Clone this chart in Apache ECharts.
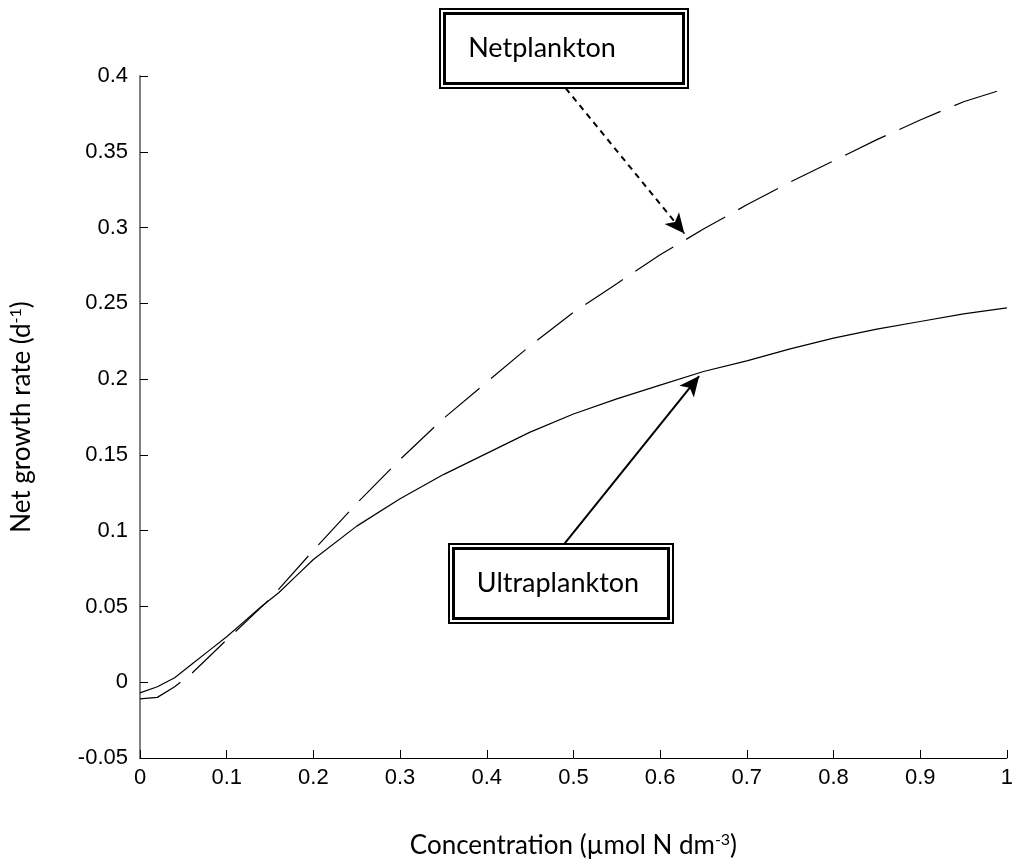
<!DOCTYPE html>
<html><head><meta charset="utf-8">
<script src="https://cdn.jsdelivr.net/npm/echarts@6/dist/echarts.min.js"></script>
<style>html,body{margin:0;padding:0;background:#fff}#c{width:1016px;height:867px}</style>
</head><body><div id="c"></div>
<script>
const ultraX = [0,0.02,0.04,0.06,0.08,0.1,0.12,0.14,0.16,0.18,0.2,0.25,0.3,0.35,0.4,0.45,0.5,0.55,0.6,0.65,0.7,0.75,0.8,0.85,0.9,0.95,1.0];
const ultraY = [-0.007,-0.003,0.003,0.012,0.021,0.030,0.040,0.050,0.059,0.070,0.081,0.103,0.121,0.137,0.151,0.165,0.177,0.187,0.196,0.205,0.212,0.220,0.227,0.233,0.238,0.243,0.247];
const netX = [0,0.02,0.04,0.06,0.08,0.1,0.15,0.2,0.25,0.3,0.35,0.4,0.45,0.5,0.55,0.6,0.65,0.7,0.75,0.8,0.85,0.9,0.95,1.0];
const netY = [-0.011,-0.010,-0.003,0.006,0.017,0.028,0.055,0.087,0.118,0.147,0.174,0.198,0.222,0.244,0.263,0.282,0.299,0.315,0.330,0.344,0.358,0.371,0.383,0.392];
const yTicks = [-0.05,0.4,0.05];
const xTicks = [0,1,0.1];
const netArrow = [[0.491,0.392],[0.628,0.296]];
const ultraArrow = [[0.489,0.091],[0.645,0.202]];

const chart = echarts.init(document.getElementById('c'));
const txtFont = 'Lato';
const labFont = 'Liberation Sans';
function box(x,y,w,h,text,tx){
  return {type:'group', children:[
    {type:'rect', shape:{x:x,y:y,width:w,height:h}, style:{fill:'#fff',stroke:'#000',lineWidth:2}},
    {type:'rect', shape:{x:x+4.5,y:y+4.5,width:w-9,height:h-9}, style:{fill:'none',stroke:'#000',lineWidth:3}},
    {type:'text', x:tx, y:y+h/2, style:{text:text, font:'27px '+txtFont, fill:'#000', align:'center', verticalAlign:'middle'}}
  ]};
}
chart.setOption({
  animation:false,
  grid:{left:140,right:6,top:76,bottom:109,containLabel:false},
  xAxis:{type:'value',min:xTicks[0],max:xTicks[1],interval:xTicks[2],
    axisLine:{onZero:false,lineStyle:{color:'#000',width:1}},
    axisTick:{inside:true,length:8,lineStyle:{color:'#000'}},
    splitLine:{show:false},
    axisLabel:{color:'#000',fontSize:22,fontFamily:labFont,margin:9},
    name:'{a|Concentration (µmol N dm}{s|-3}{a|)}',nameLocation:'middle',nameGap:74,
    nameTextStyle:{rich:{a:{fontSize:26,fontFamily:txtFont,color:'#000'},s:{fontSize:16,fontFamily:txtFont,color:'#000',verticalAlign:'top',padding:[0,0,12,0]}}}
  },
  yAxis:{type:'value',min:yTicks[0],max:yTicks[1],interval:yTicks[2],
    axisLine:{show:true,onZero:false,lineStyle:{color:'#808080',width:2}},
    axisTick:{show:true,inside:true,length:8,lineStyle:{color:'#000'}},
    splitLine:{show:false},
    axisLabel:{color:'#000',fontSize:22,fontFamily:labFont,margin:12},
    name:'{a|Net growth rate (d}{s|-1}{a|)}',nameLocation:'middle',nameGap:104,nameRotate:90,
    nameTextStyle:{rich:{a:{fontSize:26,fontFamily:txtFont,color:'#000'},s:{fontSize:16,fontFamily:txtFont,color:'#000',padding:[0,0,12,0]}}}
  },
  series:[
    {name:'Ultraplankton',type:'line',data:ultraX.map((x,i)=>[x,ultraY[i]]),showSymbol:false,smooth:false,
      lineStyle:{color:'#000',width:1.2},
      markLine:{silent:true,symbol:['none','arrow'],symbolSize:[14,20],label:{show:false},
        lineStyle:{color:'#000',width:2,type:'solid'},
        data:[[{coord:ultraArrow[0]},{coord:ultraArrow[1]}]]}
    },
    {name:'Netplankton',type:'line',data:netX.map((x,i)=>[x,netY[i]]),showSymbol:false,smooth:false,
      lineStyle:{color:'#000',width:1.2,type:[45,15]},
      markLine:{silent:true,symbol:['none','arrow'],symbolSize:[14,20],label:{show:false},
        lineStyle:{color:'#000',width:2,type:[6,5]},
        data:[[{coord:netArrow[0]},{coord:netArrow[1]}]]}
    }
  ],
  graphic:[box(440,9,248,79,'Netplankton',542), box(449,544,224,79,'Ultraplankton',558)]
});
</script></body></html>
